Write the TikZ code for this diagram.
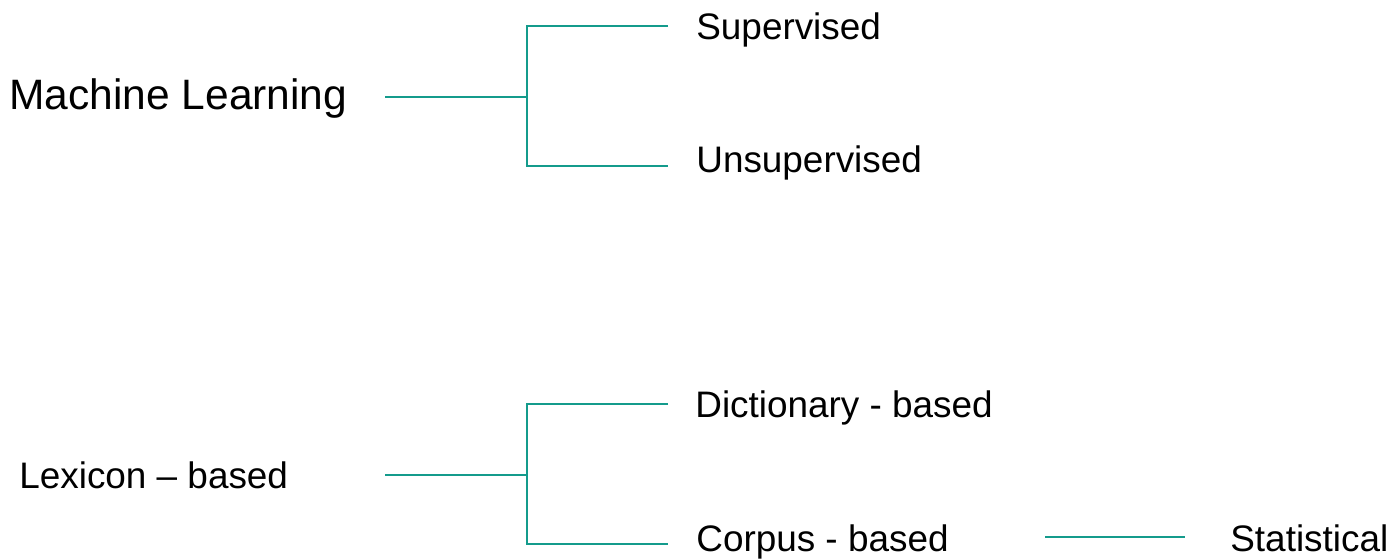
\documentclass[tikz,border=0pt]{standalone}
\usepackage{fontspec}
\setmainfont{Liberation Sans}
\usepackage{tikz}
\usepackage{xcolor}
\definecolor{clrteal}{RGB}{20,155,140}

\begin{document}
\begin{tikzpicture}[
    x=0.02cm, y=-0.02cm,
    lbl/.style={anchor=base west, inner sep=0pt,
                font=\fontsize{21}{25}\selectfont},
    root/.style={lbl, font=\fontsize{24.2}{29}\selectfont},
    branch/.style={clrteal, line width=1.3pt},
  ]
    \useasboundingbox (0,0) rectangle (1395,560);

    % machine learning
    \node[root] (ml)   at (9,110)   {Machine Learning};
    \node[lbl]  (sup)  at (696,40)  {Supervised};
    \node[lbl]  (uns)  at (696,173) {Unsupervised};

    % lexicon based
    \node[lbl]  (lex)  at (19,488)   {Lexicon -- based};
    \node[lbl]  (dict) at (695,417)  {Dictionary - based};
    \node[lbl]  (corp) at (696,551)  {Corpus - based};
    \node[lbl]  (stat) at (1230,551) {Statistical};

    \coordinate (mlin)   at (385,97);
    \coordinate (mlfork) at (527,97);
    \coordinate (mlsup)  at (668,26);
    \coordinate (mluns)  at (668,166);

    \coordinate (lxin)   at (385,475);
    \coordinate (lxfork) at (527,475);
    \coordinate (lxdict) at (668,404);
    \coordinate (lxcorp) at (668,544);

    \coordinate (cpout)  at (1045,537);
    \coordinate (stin)   at (1185,537);

    \draw[branch] (mlin) -- (mlfork);
    \draw[branch] (mlsup) -| (mlfork) |- (mluns);
    \draw[branch] (lxin) -- (lxfork);
    \draw[branch] (lxdict) -| (lxfork) |- (lxcorp);
    \draw[branch] (cpout) -- (stin);
  \end{tikzpicture}
\end{document}
